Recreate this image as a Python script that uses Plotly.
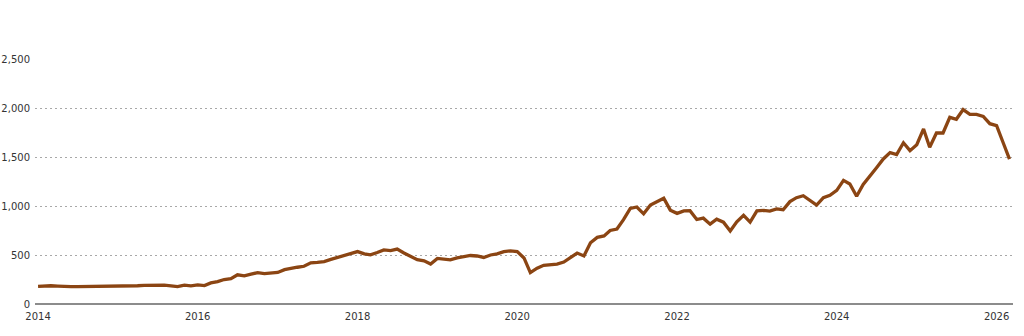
import pandas as pd
import plotly.graph_objects as go

# Monthly index values, Jan 2014 - Mar 2026
months = pd.date_range("2014-01-01", "2026-03-01", freq="MS")

values = [
    # 2014
    180, 185, 186, 183, 178, 177, 178, 178, 181, 184, 186, 185,
    # 2015
    180, 178, 180, 186, 190, 193, 188, 192, 186, 178, 192, 186,
    # 2016
    195, 188, 215, 228, 250, 258, 298, 288, 305, 320, 310, 312,
    # 2017
    322, 350, 365, 375, 385, 420, 425, 432, 455, 475, 492, 515,
    # 2018
    535, 512, 502, 525, 552, 545, 560, 520, 490, 452, 440, 408,
    # 2019
    465, 460, 450, 470, 480, 495, 490, 475, 500, 512, 535, 542,
    # 2020
    535, 470, 320, 365, 395, 405, 408, 428, 480, 520, 490, 625,
    # 2021
    680, 695, 750, 765, 860, 975, 990, 920, 1010, 1045, 1080, 958,
    # 2022
    925, 950, 952, 862, 876, 815, 866, 835, 745, 838, 905, 835,
    # 2023
    950, 955, 948, 970, 962, 1045, 1085, 1105, 1060, 1010, 1085, 1110,
    # 2024
    1160, 1262, 1225, 1100, 1220, 1300, 1390, 1480, 1545, 1525, 1645, 1565,
    # 2025
    1625, 1786, 1600, 1745, 1745, 1905, 1885, 1984, 1935, 1935, 1915, 1840,
    # 2026
    1820, 1640, 1478,
]

x_ticks = ["2014-01-01", "2016-01-01", "2018-01-01", "2020-01-01",
           "2022-01-01", "2024-01-01", "2026-01-01"]
x_tick_labels = ["2014", "2016", "2018", "2020", "2022", "2024", "2026"]
y_ticks = [0, 500, 1000, 1500, 2000, 2500]

fig = go.Figure()
fig.add_trace(go.Scatter(
    x=months, y=values, mode="lines",
    line=dict(color="#8B4513", width=3.3),
    hoverinfo="x+y",
))

font = dict(family="DejaVu Sans, Verdana, sans-serif", size=10, color="#333333")

fig.update_layout(
    width=1024, height=336,
    margin=dict(l=35, r=11, t=59, b=32),
    paper_bgcolor="white", plot_bgcolor="white",
    showlegend=False,
    font=font,
    xaxis=dict(
        range=["2013-12-18", "2026-03-17"],
        tickmode="array", tickvals=x_ticks, ticktext=x_tick_labels,
        showgrid=False, zeroline=False, automargin=False,
        showline=False, ticks="", ticklabelstandoff=5, tickfont=font,
    ),
    yaxis=dict(
        range=[0, 2500],
        tickmode="array", tickvals=y_ticks,
        tickformat=",", automargin=False,
        showgrid=True, gridcolor="#a8a8a8", griddash="2px,3px", gridwidth=1,
        zeroline=True, zerolinecolor="#8c8c8c", zerolinewidth=2,
        showline=False, ticks="", ticklabelstandoff=4, tickfont=font,
    ),
)

fig.write_html("out.html")
